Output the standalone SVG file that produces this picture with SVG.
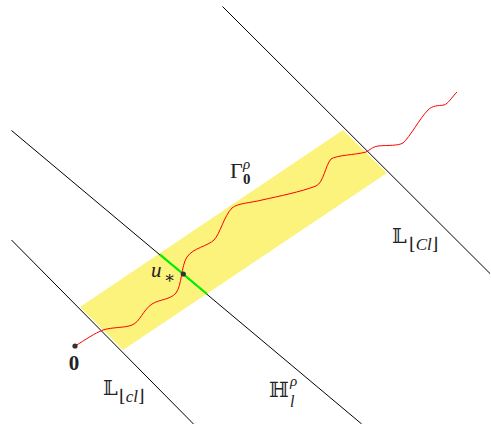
<svg xmlns="http://www.w3.org/2000/svg" width="491" height="424" viewBox="0 0 491 424">
<style>
.ln{stroke:#000;stroke-width:1;fill:none}
.t{font-family:"Liberation Serif","DejaVu Serif","DejaVu Sans",serif;fill:#222}
.it{font-style:italic}
.bb{font-family:"DejaVu Serif","DejaVu Sans",serif;fill:#222}
.dot{fill:#333}
</style>
<rect width="491" height="424" fill="#fff"/>
<g id="band">
<polygon points="80,307 343,130 387,173 123,350" fill="#fcf37d"/>
</g>
<g id="connectors">
<line id="L1" class="ln" x1="11.5" y1="240" x2="193.5" y2="424"/>
<line id="H" class="ln" x1="11.5" y1="130.5" x2="361.7" y2="424"/>
<line id="L2" class="ln" x1="222.5" y1="6.5" x2="490" y2="273.5"/>
<line id="green" x1="160" y1="254.6" x2="207" y2="294" stroke="#00ee00" stroke-width="2.2"/>
<path id="gamma" fill="none" stroke="#ff0000" stroke-width="1" d="M75,346 C85,340 95,333 103,330 C112,327 125,328 132,325 C140,322 143,310 152,304 C160,299 170,300 176,293 C182,285 181,266 187,257 C193,248 208,246 214,240 C220,234 224,216 232,208 C238,203 250,203 262,200 C280,196 300,192 316,186 C324,182 325,166 331,159 C337,155 355,155 366,152 C370,150 372,147 378,146 C388,145 398,146 403,143 C410,137 420,118 428,110 C433,105 438,106 444,105 C448,104 452,97 457,92"/>
</g>
<g id="node-0">
<circle class="dot" cx="75" cy="346" r="2.6"/>
<text class="t" x="74" y="370" font-size="21" font-weight="bold" text-anchor="middle">0</text>
</g>
<g id="node-u">
<circle class="dot" cx="183.3" cy="274" r="2.6"/>
<text class="t it" x="151" y="277" font-size="21">u</text>
<text class="t" x="164" y="283" font-size="17">∗</text>
</g>
<g id="label-gamma">
<text class="t" x="230" y="178" font-size="22">Γ</text>
<text class="t it" x="243" y="169" font-size="15">ρ</text>
<text class="t" x="243" y="184" font-size="15" font-weight="bold">0</text>
</g>
<g id="label-Lcl">
<text class="bb" x="103" y="395" font-size="21">𝕃</text>
<text class="t" x="119" y="402" font-size="17">⌊<tspan class="it">cl</tspan>⌋</text>
</g>
<g id="label-H">
<text class="bb" x="269" y="397" font-size="21">ℍ</text>
<text class="t it" x="290" y="386" font-size="15">ρ</text>
<text class="t it" x="290" y="407" font-size="16">l</text>
</g>
<g id="label-LCl">
<text class="bb" x="392" y="243" font-size="21">𝕃</text>
<text class="t" x="409" y="250" font-size="17">⌊<tspan class="it">Cl</tspan>⌋</text>
</g>
</svg>
